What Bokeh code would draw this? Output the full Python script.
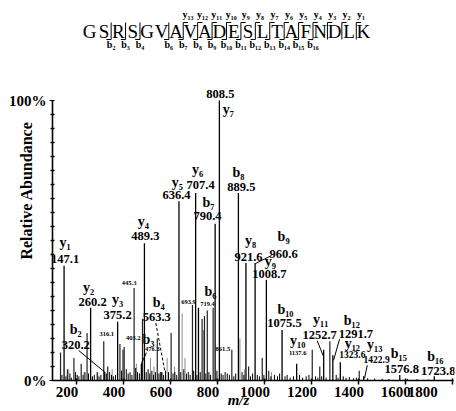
from bokeh.plotting import figure
from bokeh.models import Range1d, FixedTicker, ColumnDataSource
from bokeh.core.properties import value
from bokeh.embed import file_html
from bokeh.resources import INLINE

# ---------------- data ----------------
sequence = list("GSRSGVAVADESLTAFNDLK")
b_cuts = [2, 3, 4, 6, 7, 8, 9, 10, 11, 12, 13, 14, 15, 16]
y_cuts = [13, 12, 11, 10, 9, 8, 7, 6, 5, 4, 3, 2, 1]

ion_names = ["y1", "y2", "b2", "y3", "b3", "y4", "b4", "y5", "y6", "b6", "b7", "y7",
             "b8", "y8", "b9", "y9", "b10", "y10", "y11", "b12", "y12", "y13", "b15", "b16"]
ion_mz = [147.1, 260.2, 320.2, 375.2, 476.3, 489.3, 563.3, 636.4, 707.4, 719.4, 790.4, 808.5,
          889.5, 921.6, 960.6, 1008.7, 1075.5, 1137.6, 1252.7, 1291.7, 1323.6, 1422.9, 1576.8, 1723.8]
ion_int = [41, 26, 3, 21, 6, 49, 3, 64, 67, 26, 56, 100,
           67, 42, 42, 36, 18, 6, 11, 9, 6.5, 1.5, 2, 1.5]

minor_mz = [316.1, 403.2, 445.3, 693.9, 861.5]
minor_int = [14, 12, 33, 27, 11]

other_mz = [132, 189, 220, 245, 333, 385, 398, 481, 544, 603,
            735, 745, 757, 782, 933, 991, 1204, 1236, 1279, 1404]
other_int = [10, 8, 6, 17, 5, 13, 11, 22, 15, 17,
             22, 23, 25, 26, 5, 8, 11, 5, 14, 3.5]

gray_mz = [167, 232, 290, 352, 455, 515, 530, 586, 617, 650, 662, 741, 896, 915, 1030]
gray_int = [4, 3, 3, 4, 6, 8, 5, 8, 5, 24, 8, 18, 15, 4, 3]

noise_mz = [138, 155, 161, 172, 178, 196, 203, 210, 228, 236,
            251, 268, 276, 288, 296, 304, 327, 341, 349, 357,
            366, 392, 412, 420, 428, 436, 452, 460, 468, 497,
            505, 512, 521, 528, 536, 551, 557, 571, 579, 592,
            611, 619, 627, 644, 657, 668, 676, 684, 699, 713,
            727, 751, 764, 771, 798, 816, 824, 833, 842, 851,
            870, 878, 905, 913, 941, 950, 970, 979, 998, 1019,
            1028, 1043, 1056, 1065, 1088, 1097, 1110, 1124, 1150, 1163,
            1178, 1190, 1218, 1228, 1244, 1263, 1306, 1314, 1336, 1348,
            1362, 1380, 1392, 1440, 1470, 1502, 1530, 1610, 1650, 1700]
noise_int = [2, 1.5, 4, 2.5, 1, 3, 2, 1.5, 2, 3,
             2.5, 1.5, 2, 3, 1.5, 2, 2.5, 3, 2, 1.5,
             2, 3.5, 4, 2.5, 3, 2, 4.5, 3, 2.5, 3,
             4, 2.5, 3.5, 2, 3, 2.5, 3, 2, 3.5, 3,
             2.5, 3, 2, 3, 4, 2.5, 3, 2, 3.5, 2,
             3, 2.5, 3, 2, 3.5, 2.5, 2, 3, 2.5, 2,
             1.5, 2.5, 3, 2, 1.5, 2.5, 2, 1.5, 2, 3.5,
             1.5, 2, 1.5, 2.5, 1.5, 2, 1, 1.5, 2, 1,
             1.5, 2, 1.5, 1, 1.5, 1, 2, 1, 1.5, 1,
             1.2, 0.8, 1, 0.8, 0.7, 0.6, 0.5, 0.6, 0.5, 0.4]

x_ticks = [200, 400, 600, 800, 1000, 1200, 1400, 1600, 1800]

# ---------------- layout / style ----------------
W, H = 456, 411
BL, BR, BT, BB = 52, 2, 0, 31
FRAME_W, FRAME_H = W - BL - BR, H - BT - BB
X0, X1 = 97.8, 1809.8
Y1 = 100 + 100 / 2.8
PX_MZ = FRAME_W / (X1 - X0)
PX_PCT = FRAME_H / Y1
SEQ_FIRST_PX, SEQ_STEP = 89, 14.42
SERIF = "Liberation Serif"
NB = "\u00a0"   # trailing pad: labels sit left of their ticks in the original

SUB = str.maketrans("0123456789", "₀₁₂₃₄₅₆₇₈₉")


def ion_text(n):
    return n[0] + n[1:].translate(SUB)


# name offset, number offset (screen px, y down), number size class
label_layout = {
    "y1": ((1, -23), (1, -7), "L"), "y2": ((-2, -20), (2, -6), "L"),
    "b2": ((-29, -43), (-29, -27), "L"), "y3": ((0, -22), (0, -7), "L"),
    "b3": ((7, -24), (11, -15), "S"), "y4": ((-1, -22), (1, -7), "L"),
    "b4": ((-3, -70), (-5, -55), "L"), "y5": ((-1.5, -19), (-2.5, -6), "L"),
    "y6": ((2, -23), (5, -8), "L"), "b6": ((12, -16), (9, -4), "S"),
    "b7": ((-6.6, -21), (-7.6, -8), "L"), "y7": ((9, 9), (1, -7), "L"),
    "b8": ((0, -20), (3, -6), "L"), "y8": ((4.6, -22), (2.6, -6), "L"),
    "b9": ((28.5, -26), (28.5, -9), "L"), "y9": ((4, -18), (3, -6), "L"),
    "b10": ((3.4, -21), (2.4, -7), "L"), "y10": ((1, -23), (1, -11), "S"),
    "y11": ((-3, -30), (-4, -15), "L"), "b12": ((19, -35), (23, -21), "L"),
    "y12": ((12, -19), (12, -8), "M"), "y13": ((11, -32), (13, -17), "M"),
    "b15": ((-1, -21), (2, -6), "L"), "b16": ((1, -20), (4, -5), "L"),
}
minor_layout = {316.1: (3, -7), 403.2: (9, -9), 445.3: (-5, -5), 693.9: (-4, -3), 861.5: (-9, -1)}
leaders = {
    "b2": ((-26, -21.6), (0, 0), "solid"), "b3": ((5, -11), (0, 0), "solid"),
    "b4": ((-6, -49), (3, -1), "3 2"), "b9": ((0.5, 0.6), (16.5, -7.4), "solid"),
    "y11": ((-6.5, -9), (-0.5, 6), "solid"), "b12": ((6.7, -16), (0.7, 5), "solid"),
    "y13": ((3.6, -11), (0.9, 2), "solid"),
}
num_sizes = {"L": "12.5px", "M": "9.5px", "S": "6.5px"}

# ---------------- figure ----------------
p = figure(width=W, height=H, output_backend="svg", toolbar_location=None,
           x_range=Range1d(X0, X1), y_range=Range1d(0, Y1),
           min_border_left=BL, min_border_right=BR, min_border_top=BT, min_border_bottom=BB)
p.outline_line_color = None
p.grid.visible = False
p.background_fill_color = "white"
p.border_fill_color = "white"
p.extra_x_ranges = {"seq_x": Range1d((BL - SEQ_FIRST_PX) / SEQ_STEP,
                                     (BL + FRAME_W - SEQ_FIRST_PX) / SEQ_STEP)}
p.extra_y_ranges = {"seq_y": Range1d(FRAME_H, 0)}

# axes
xa = p.xaxis[0]
xa.ticker = FixedTicker(ticks=x_ticks, minor_ticks=[])
xa.bounds = (X0, 1805)
xa.axis_line_width = 1.6
xa.axis_line_color = "black"
xa.major_tick_out = 4
xa.major_tick_in = 2
xa.major_tick_line_width = 1.5
xa.major_tick_line_color = "black"
xa.major_label_overrides = {t: f"{t}" + NB * 5 for t in x_ticks}
xa.major_label_standoff = -1
xa.major_label_text_font = SERIF
xa.major_label_text_font_style = "bold"
xa.major_label_text_font_size = "15px"
xa.major_label_text_color = "black"
xa.axis_label = "m/z" + NB * 8
xa.axis_label_text_font = SERIF
xa.axis_label_text_font_style = "bold italic"
xa.axis_label_text_font_size = "15px"
xa.axis_label_text_color = "black"
xa.axis_label_standoff = -11

ya = p.yaxis[0]
ya.ticker = FixedTicker(ticks=[0, 100], minor_ticks=list(range(5, 100, 5)))
ya.bounds = (0, 100)
ya.axis_line_width = 1.6
ya.axis_line_color = "black"
ya.major_label_overrides = {0: "0%", 100: "100%"}
ya.major_tick_out = 3
ya.major_tick_in = 2
ya.major_tick_line_color = "black"
ya.minor_tick_out = 2
ya.minor_tick_in = 2
ya.minor_tick_line_width = 1.5
ya.minor_tick_line_color = "black"
ya.major_label_standoff = 3
ya.major_label_text_font = SERIF
ya.major_label_text_font_style = "bold"
ya.major_label_text_font_size = "15px"
ya.major_label_text_color = "black"
ya.axis_label = "Relative Abundance"
ya.axis_label_text_font = SERIF
ya.axis_label_text_font_style = "bold"
ya.axis_label_text_font_size = "16px"
ya.axis_label_text_color = "black"
ya.axis_label_standoff = -29

# peaks
p.segment(x0="mz", y0=0, x1="mz", y1="i", line_color="#8a8a8a", line_width=1,
          source=ColumnDataSource(dict(mz=gray_mz, i=gray_int)))
p.segment(x0="mz", y0=0, x1="mz", y1="i", line_color="black", line_width=1,
          source=ColumnDataSource(dict(mz=noise_mz, i=noise_int)))
p.segment(x0="mz", y0=0, x1="mz", y1="i", line_color="#222222", line_width=1.2,
          source=ColumnDataSource(dict(mz=other_mz + minor_mz, i=other_int + minor_int)))
p.segment(x0="mz", y0=0, x1="mz", y1="i", line_color="black", line_width=1.3,
          source=ColumnDataSource(dict(mz=ion_mz, i=ion_int)))

# peak labels
def empty():
    return dict(x=[], y=[], t=[], dx=[], dy=[])


name_src = empty()
num_srcs = {k: empty() for k in num_sizes}
lead = {"solid": dict(x0=[], y0=[], x1=[], y1=[]), "3 2": dict(x0=[], y0=[], x1=[], y1=[])}
for n, mz, it in zip(ion_names, ion_mz, ion_int):
    (ndx, ndy), (vdx, vdy), size = label_layout[n]
    for d, t, ox, oy in ((name_src, ion_text(n), ndx, ndy),
                         (num_srcs[size], f"{mz:.1f}", vdx, vdy)):
        d["x"].append(mz); d["y"].append(it); d["t"].append(t)
        d["dx"].append(ox); d["dy"].append(oy)
    if n in leaders:
        (sx, sy), (ex, ey), dash = leaders[n]
        L = lead[dash]
        L["x0"].append(mz + sx / PX_MZ); L["y0"].append(it - sy / PX_PCT)
        L["x1"].append(mz + ex / PX_MZ); L["y1"].append(it - ey / PX_PCT)
for mz, it in zip(minor_mz, minor_int):
    dx, dy = minor_layout[mz]
    d = num_srcs["S"]
    d["x"].append(mz); d["y"].append(it); d["t"].append(f"{mz:.1f}")
    d["dx"].append(dx); d["dy"].append(dy)

for dash, L in lead.items():
    p.segment(x0="x0", y0="y0", x1="x1", y1="y1", line_color="black", line_width=1,
              line_dash=dash, source=ColumnDataSource(L))

common = dict(x="x", y="y", text="t", x_offset="dx", y_offset="dy", text_font=value(SERIF),
              text_font_style="bold", text_align="center", text_baseline="middle", text_color="black")
p.text(source=ColumnDataSource(name_src), text_font_size="14px", **common)
for k, d in num_srcs.items():
    p.text(source=ColumnDataSource(d), text_font_size=num_sizes[k], **common)

# peptide sequence with fragment markers
SEQ_ROW, YLAB_ROW, BLAB_ROW, BAR_TOP, BAR_BOT, HOOK = 31, 14, 44, 22, 39, 0.33
p.text(x=list(range(len(sequence))), y=[SEQ_ROW] * len(sequence), text=sequence,
       x_range_name="seq_x", y_range_name="seq_y", text_font=value(SERIF),
       text_font_size="19px", text_align="center", text_baseline="middle", text_color="black")
cuts = sorted(set(b_cuts) | {len(sequence) - k for k in y_cuts})
sep = [c - 0.5 for c in cuts]
p.segment(x0=sep, y0=[BAR_TOP] * len(sep), x1=sep, y1=[BAR_BOT] * len(sep),
          x_range_name="seq_x", y_range_name="seq_y", line_color="black", line_width=1)
bsep = [c - 0.5 for c in b_cuts]
p.segment(x0=[s - HOOK for s in bsep], y0=[BAR_BOT] * len(bsep), x1=bsep, y1=[BAR_BOT] * len(bsep),
          x_range_name="seq_x", y_range_name="seq_y", line_color="black", line_width=1)
ysep = [len(sequence) - k - 0.5 for k in y_cuts]
p.segment(x0=ysep, y0=[BAR_TOP] * len(ysep), x1=[s + HOOK for s in ysep], y1=[BAR_TOP] * len(ysep),
          x_range_name="seq_x", y_range_name="seq_y", line_color="black", line_width=1)
p.text(x=[s + HOOK for s in ysep], y=[YLAB_ROW] * len(ysep), text=[ion_text(f"y{k}") for k in y_cuts],
       x_range_name="seq_x", y_range_name="seq_y", text_font=value(SERIF), text_font_style="bold",
       text_font_size="10px", text_align="center", text_baseline="middle", text_color="black")
p.text(x=bsep, y=[BLAB_ROW] * len(bsep), text=[ion_text(f"b{k}") for k in b_cuts],
       x_range_name="seq_x", y_range_name="seq_y", text_font=value(SERIF), text_font_style="bold",
       text_font_size="10px", text_align="center", text_baseline="middle", text_color="black")

open("out.html", "w").write(file_html(p, INLINE))
